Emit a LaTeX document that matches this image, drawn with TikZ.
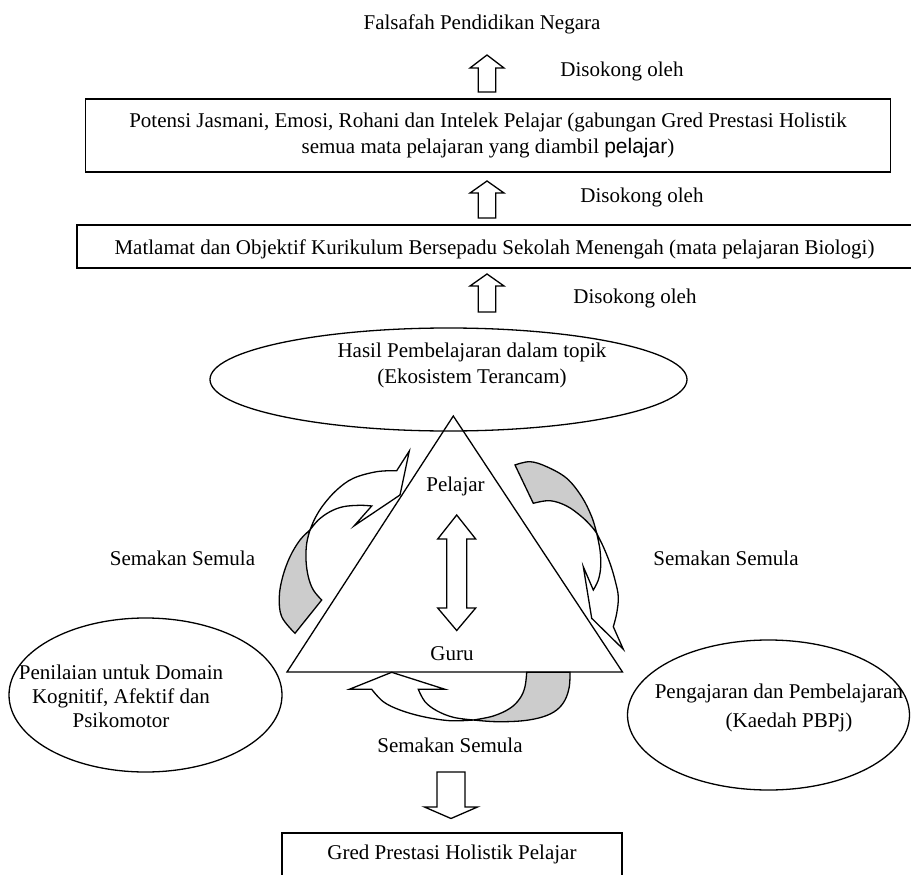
\documentclass[tikz,border=0pt]{standalone}
\usepackage{fontspec}
\setmainfont{Liberation Serif}
\newfontfamily\arialf{Liberation Sans}
\usetikzlibrary{shapes.geometric}
\definecolor{shade}{RGB}{204,204,204}
\begin{document}
\begin{tikzpicture}[x=1pt,y=-1pt,
  every node/.style={font=\fontsize{21}{26}\selectfont, inner sep=0pt},
  lbl/.style={anchor=base},
  boxnode/.style={draw, line width=1.8pt, rectangle, align=center},
  ell/.style={draw, ellipse, line width=1.3pt},
  barrow/.style={draw, fill=white, line width=1.3pt, line join=miter},
  curve/.style={draw, line width=1.3pt, line join=miter},
]
\useasboundingbox (0,0) rectangle (911,875);

% boxes and ellipses
\node[boxnode, minimum width=805pt, minimum height=73pt] (potensi) at (488,135.5)
  {Potensi Jasmani, Emosi, Rohani dan Intelek Pelajar (gabungan Gred Prestasi Holistik\\semua mata pelajaran yang diambil {\arialf pelajar})};
\node[boxnode, minimum width=835pt, minimum height=43pt, text height=21pt, text depth=4.6pt] (matlamat) at (494.5,246.5)
  {Matlamat dan Objektif Kurikulum Bersepadu Sekolah Menengah (mata pelajaran Biologi)};
\node[ell, minimum width=477pt, minimum height=103pt] (hasilE) at (448.5,379.5) {};
\node[ell, minimum width=273pt, minimum height=154pt] (penE) at (145.5,695) {};
\node[ell, minimum width=282pt, minimum height=150pt] (pengE) at (768.5,715) {};
\node[boxnode, line width=1.3pt, minimum width=340pt, minimum height=44pt, text height=14.5pt, text depth=4.6pt] (gred) at (452,855)
  {Gred Prestasi Holistik Pelajar};

% up block arrows
\draw[barrow] (478.3,92) -- (478.3,68) -- (470,68) -- (487,55) -- (504,68) -- (495.7,68) -- (495.7,92) -- cycle;
\draw[barrow] (478.3,218) -- (478.3,193) -- (470,193) -- (487,181) -- (504,193) -- (495.7,193) -- (495.7,218) -- cycle;
\draw[barrow] (478.3,312) -- (478.3,286) -- (470,286) -- (487,274) -- (504,286) -- (495.7,286) -- (495.7,312) -- cycle;
% double arrow
\draw[barrow] (456.7,515) -- (475.7,539) -- (466.7,539) -- (466.7,608) -- (475.7,608) -- (456.7,630.5)
  -- (437.7,608) -- (446.7,608) -- (446.7,539) -- (437.7,539) -- cycle;
% down arrow
\draw[barrow] (437,772) -- (465,772) -- (465,807) -- (477.5,807) -- (451,818.5) -- (424.5,807) -- (437,807) -- cycle;

% left curved arrow
\filldraw[curve, fill=shade] plot[smooth,tension=0.6] coordinates {(310,530) (300,540) (290,556.7) (282.7,576.7) (279.3,596.7) (281.7,616.7) (295,633.3)}
  -- plot[smooth,tension=0.6] coordinates {(321.7,600) (313.3,590) (308.3,576.7) (306,560) (306.7,543.3) (310,530)} -- cycle;
\filldraw[curve, fill=white] plot[smooth,tension=0.6] coordinates {(310,530) (315,518.3) (323.3,505) (336.7,490) (353.3,478.3) (376.7,471.7) (396.7,470.7)}
  -- (409.3,451) -- (400,495) -- (354.3,525.7)
  -- plot[smooth,tension=0.6] coordinates {(371.7,506) (360,505.3) (343.3,506.7) (330,511.7) (318.3,520) (310,530)} -- cycle;

% right curved arrow
\filldraw[curve, fill=shade] (515,465) -- plot[smooth,tension=0.6] coordinates {(533.3,503.3) (550,500.7) (566.7,506) (581.7,516.7) (591.7,526.7) (596.7,533.3)}
  -- plot[smooth,tension=0.6] coordinates {(596.7,533.3) (591.7,516.7) (581.7,496.7) (566.7,478.3) (546.7,466.7) (530,461.7) (515,465)} -- cycle;
\filldraw[curve, fill=white] plot[smooth,tension=0.6] coordinates {(596.7,533.3) (603.3,546.7) (610,563.3) (615,580) (618.3,596.7) (616.7,613.3) (613.3,626.7)}
  -- (623.3,649.3) -- (591.7,618.3) -- (583.3,566.7)
  -- plot[smooth,tension=0.6] coordinates {(593.3,590) (598.3,580) (600.7,566.7) (600,550) (596.7,533.3)} -- cycle;

% bottom curved arrow
\filldraw[curve, fill=shade] (526.7,672.3) -- plot[smooth,tension=0.6] coordinates {(570,672.3) (569.3,686.7) (565,700) (556.7,710) (543.3,716.7) (523.3,720.7) (496.7,721.7) (473.3,720)}
  -- plot[smooth,tension=0.6] coordinates {(473.3,720) (493.3,716) (510,708.3) (520,698.3) (525,686.7) (526.7,672.3)} -- cycle;
\filldraw[curve, fill=white] plot[smooth,tension=0.6] coordinates {(473.3,720) (450,720.7) (423.3,716.7) (400,710) (383.3,701.7) (371.7,689.3)}
  -- (349.3,689.3) -- (391.7,672.3) -- (445,689.3)
  -- plot[smooth,tension=0.6] coordinates {(418.3,689.3) (425,701.7) (436.7,710.7) (453.3,717.3) (473.3,720)} -- cycle;

% triangle
\coordinate (apex) at (453.3,416);
\coordinate (bl) at (287,672);
\coordinate (br) at (622.5,672);
\draw[line width=1.3pt, line join=miter] (apex) -- (bl) -- (br) -- cycle;

% texts
\node[lbl] (fals) at (482,30) {Falsafah Pendidikan Negara};
\node[lbl] (dis1) at (622,77) {Disokong oleh};
\node[lbl] (dis2) at (642,202) {Disokong oleh};
\node[lbl] (dis3) at (635,303) {Disokong oleh};
\node[align=center] (hasil) at (472,365) {Hasil Pembelajaran dalam topik\\(Ekosistem Terancam)};
\node[lbl] (pelajar) at (455.5,491) {Pelajar};
\node[lbl] (guru) at (452,660) {Guru};
\node[lbl] (sl) at (182.5,565) {Semakan Semula};
\node[lbl] (sr) at (726,565) {Semakan Semula};
\node[lbl] (sb) at (450,752) {Semakan Semula};
\node[align=center, font=\fontsize{21}{24}\selectfont] (pen) at (121,696.75) {Penilaian untuk Domain\\Kognitif, Afektif dan\\Psikomotor};
\node[align=center, font=\fontsize{21}{29}\selectfont] (peng) at (779,707.6) {Pengajaran dan Pembelajaran\\(Kaedah PBPj)\hspace*{-20pt}};
\end{tikzpicture}
\end{document}
